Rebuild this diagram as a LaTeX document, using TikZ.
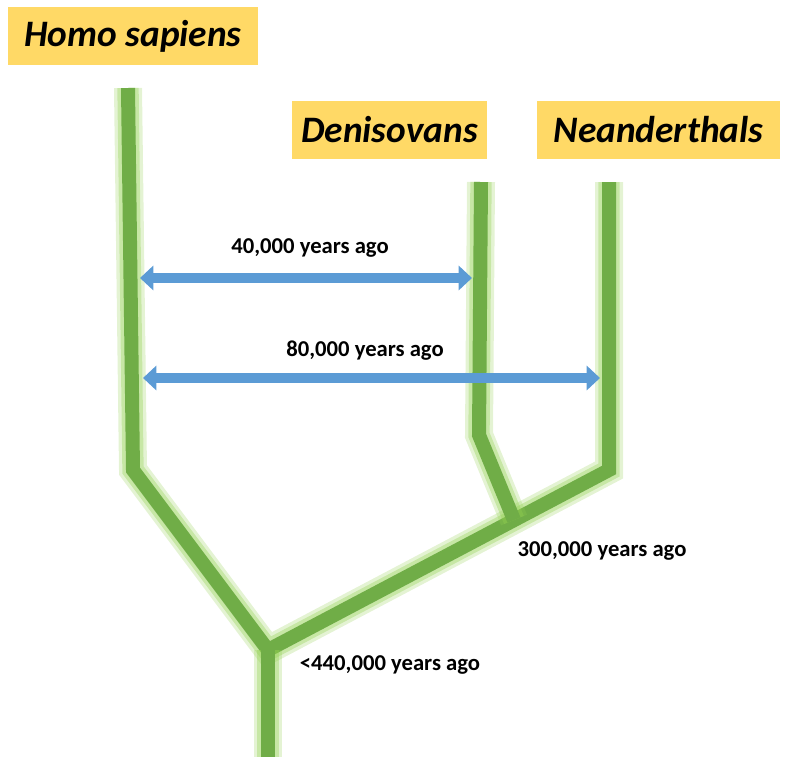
\documentclass[tikz,border=0pt]{standalone}
\usepackage{fontspec}
\setmainfont{Carlito}
\usetikzlibrary{arrows.meta}

\definecolor{branch}{HTML}{70AD47}
\definecolor{glow}{HTML}{92D050}
\definecolor{tag}{HTML}{FFD966}
\definecolor{span}{HTML}{5B9BD5}

\tikzset{
  species/.style={fill=tag, inner xsep=0pt, minimum height=44pt,
    font=\fontsize{28}{32}\selectfont\bfseries\itshape},
  age/.style={font=\fontsize{17}{20}\selectfont\bfseries},
  branchline/.style={draw=branch, line width=10.5pt, line join=miter,
    preaction={draw=glow, draw opacity=.25, line width=21pt},
    preaction={draw=glow, draw opacity=.35, line width=16pt}},
  spanarrow/.style={draw=span, line width=7.8pt,
    {Triangle[length=10pt,width=18pt]}-{Triangle[length=10pt,width=18pt]}},
}

\begin{document}
\begin{tikzpicture}[x=0.75pt,y=-0.75pt]
\useasboundingbox (0,0) rectangle (789,776);

% Place nodes
\node[species, minimum width=187.5pt] (hs) at (133,36) {Homo sapiens};
\node[species, minimum width=146pt] (den) at (389.5,130) {Denisovans};
\node[species, minimum width=182pt] (nea) at (658.5,130) {Neanderthals};

\node[age] (lbl40) at (310,248) {40,000 years ago};
\node[age] (lbl80) at (365,351) {80,000 years ago};
\node[age] (lbl300) at (602,551) {300,000 years ago};
\node[age] (lbl440) at (390,665) {<440,000 years ago};

% tree points
\coordinate (hsTop) at (128,88);
\coordinate (hsBend) at (133,470);
\coordinate (root) at (268,650);
\coordinate (rootBase) at (268,757);
\coordinate (neBend) at (609,470);
\coordinate (neTop) at (609,182);
\coordinate (deTop) at (481,182);
\coordinate (deBend) at (479,435);
\coordinate (deJoin) at (514,520);

% arrow ends
\coordinate (a40l) at (140,278);
\coordinate (a40r) at (472,278);
\coordinate (a80l) at (143,378);
\coordinate (a80r) at (600,378);

% branches
\path[branchline] (hsTop) -- (hsBend) -- (root) -- (neBend) -- (neTop);
\path[branchline] (root) -- (rootBase);
\path[branchline] (deTop) -- (deBend) -- (deJoin);

% gene flow
\draw[spanarrow] (a40l) -- (a40r);
\draw[spanarrow] (a80l) -- (a80r);

\end{tikzpicture}
\end{document}
